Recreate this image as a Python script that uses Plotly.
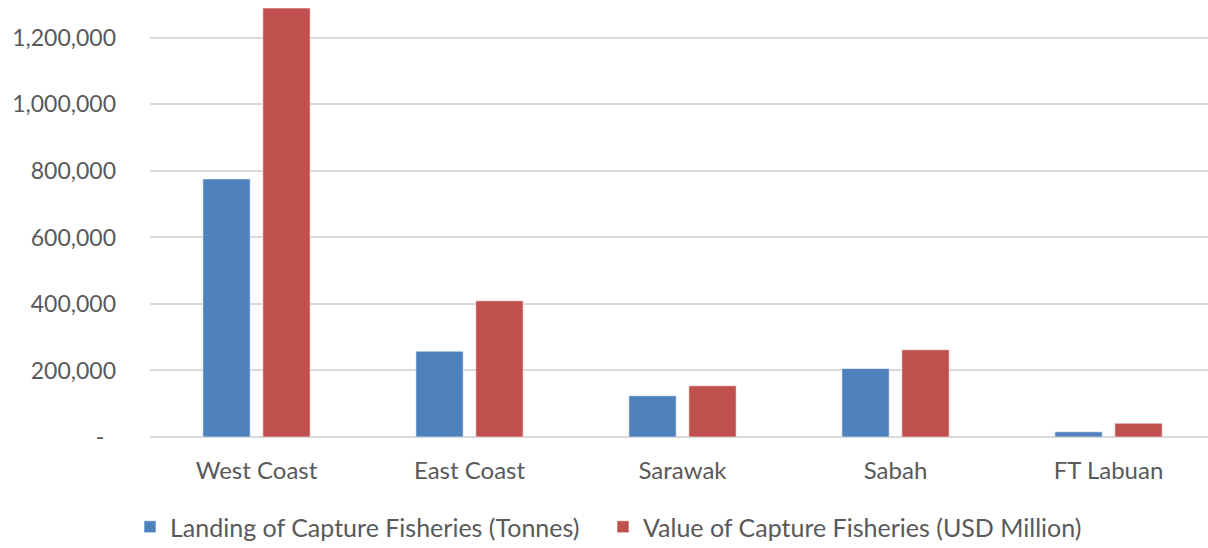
import plotly.graph_objects as go

# Capture fisheries by region
regions = ["West Coast", "East Coast", "Sarawak", "Sabah", "FT Labuan"]
landing_tonnes = [776000, 258000, 124000, 206000, 15600]
value_usd_million = [1290000, 409600, 154000, 262300, 41500]

y_tickvals = [0, 200000, 400000, 600000, 800000, 1000000, 1200000]
y_ticktext = ["-\u00a0\u00a0", "200,000", "400,000", "600,000",
              "800,000", "1,000,000", "1,200,000"]

TEXT_GREY = "#595959"
GRID_GREY = "#D9D9D9"
FONT = "Lato, 'Open Sans', sans-serif"

fig = go.Figure()
fig.add_trace(go.Bar(
    x=regions, y=landing_tonnes,
    name="Landing of Capture Fisheries (Tonnes)",
    marker=dict(color="#4F81BD", line=dict(color="rgba(255,255,255,0.6)", width=1)),
    legend="legend",
))
fig.add_trace(go.Bar(
    x=regions, y=value_usd_million,
    name="Value of Capture Fisheries (USD Million)",
    marker=dict(color="#C0504D", line=dict(color="rgba(255,255,255,0.6)", width=1)),
    legend="legend2",
))

legend_style = dict(
    orientation="h",
    xref="container", yref="container",
    xanchor="left",
    y=(548 - 527) / 548, yanchor="middle",
    font=dict(size=25, color=TEXT_GREY, family=FONT),
    itemwidth=30,
    bgcolor="rgba(0,0,0,0)",
)

fig.update_layout(
    width=1208, height=548,
    margin=dict(l=150, r=0, t=0, b=111, autoexpand=False),
    paper_bgcolor="white", plot_bgcolor="white",
    barmode="group", bargap=0.437, bargroupgap=0.21,
    font=dict(family=FONT, color=TEXT_GREY, size=23),
    showlegend=True,
    legend=dict(x=130 / 1208, **legend_style),
    legend2=dict(x=603 / 1208, **legend_style),
)

fig.update_xaxes(
    range=[-0.5, 4.467],
    showgrid=False, zeroline=False, showline=False,
    ticks="", ticklabelstandoff=17,
    tickfont=dict(size=24, color=TEXT_GREY, family=FONT),
)
fig.update_yaxes(
    range=[0, 1314000],
    tickvals=y_tickvals, ticktext=y_ticktext,
    showgrid=True, gridcolor=GRID_GREY, gridwidth=2,
    zeroline=True, zerolinecolor=GRID_GREY, zerolinewidth=2,
    showline=False, ticks="", ticklabelstandoff=33,
    tickfont=dict(size=23, color=TEXT_GREY, family=FONT),
)

fig.write_html("out.html")
